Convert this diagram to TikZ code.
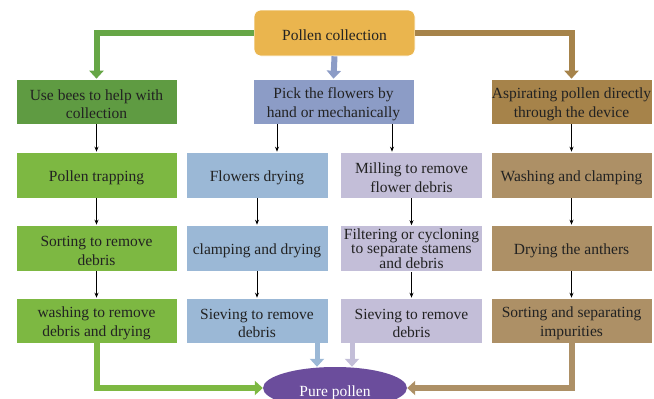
\documentclass[tikz,border=0pt]{standalone}
\usepackage{fontspec}
\setmainfont{Liberation Serif}
\usetikzlibrary{arrows.meta,shapes.geometric}
\definecolor{cPC}{HTML}{EAB54E}
\definecolor{cBees}{HTML}{5F9B42}
\definecolor{cPick}{HTML}{8C9CC6}
\definecolor{cAsp}{HTML}{A6834A}
\definecolor{cGreen}{HTML}{7DB842}
\definecolor{cBlue}{HTML}{9BB8D6}
\definecolor{cLav}{HTML}{C3BED8}
\definecolor{cTan}{HTML}{AD9066}
\definecolor{cPur}{HTML}{6B4D9C}
\definecolor{cTxt}{HTML}{222222}
\definecolor{cGarr}{HTML}{66A646}
\newcommand\mystrut{\rule{0pt}{16pt}}
\begin{document}
\begin{tikzpicture}[x=1pt,y=-1pt,
  box/.style={draw=white,line width=0.6pt,align=center,inner sep=0pt,text=cTxt,
    font=\fontsize{15.5}{18.5}\selectfont},
  wide/.style={box,minimum width=161pt},
  thinbox/.style={box,minimum width=142pt},
  hA/.style={minimum height=45pt},
  hB/.style={minimum height=46pt},
  fat/.style={line width=6pt,-{Triangle[width=14pt,length=8pt]}},
  slim/.style={line width=0.8pt,-{Stealth[length=5pt,width=4pt]}}]
\useasboundingbox (0,0) rectangle (654,399);
% top
\node[box,fill=cPC,minimum width=161pt,minimum height=46pt,rounded corners=7pt] (pc) at (334.5,33) {\mystrut Pollen collection};
% row 1
\node[wide,hA,fill=cBees] (bees) at (96.5,101.5) {\mystrut Use bees to help with\\collection};
\node[wide,hA,fill=cPick] (pick) at (333.5,101.5) {\mystrut Pick the flowers by\\hand or mechanically};
\node[wide,hA,fill=cAsp] (asp) at (571.5,101.5) {\mystrut Aspirating pollen directly\\through the device};
% row 2
\node[wide,hB,fill=cGreen] (trap) at (96.5,175) {\mystrut Pollen trapping};
\node[thinbox,hB,fill=cBlue] (fdry) at (257,175) {\mystrut Flowers drying};
\node[thinbox,hB,fill=cLav] (mill) at (411.5,175) {\mystrut Milling to remove\\flower debris};
\node[wide,hB,fill=cTan] (wash) at (571.5,175) {\mystrut Washing and clamping};
% row 3
\node[wide,hB,fill=cGreen] (sort) at (96.5,248) {\mystrut Sorting to remove\\debris};
\node[thinbox,hB,fill=cBlue] (clamp) at (257,248) {\mystrut clamping and drying};
\node[thinbox,hB,fill=cLav,font=\fontsize{15.5}{14.8}\selectfont] (filt) at (411.5,248.5) {Filtering or cycloning\\to separate stamens\\and debris};
\node[wide,hB,fill=cTan] (anth) at (571.5,248) {\mystrut Drying the anthers};
% row 4
\node[wide,hA,fill=cGreen] (wrem) at (96.5,320.5) {\mystrut washing to remove\\debris and drying};
\node[thinbox,hA,fill=cBlue] (sv1) at (257,320.5) {\mystrut Sieving to remove\\debris};
\node[thinbox,hA,fill=cLav] (sv2) at (411.5,320.5) {\mystrut Sieving to remove\\debris};
\node[wide,hA,fill=cTan] (imp) at (571.5,320.5) {\mystrut Sorting and separating\\impurities};
% result
\node[ellipse,fill=cPur,minimum width=144pt,minimum height=42pt,inner sep=0pt,text=white,
  font=\fontsize{15.5}{18}\selectfont] (pp) at (335,388) {\rule{0pt}{20pt}Pure pollen};
% thick connectors from top
\draw[fat,draw=cGarr] (pc.west) -| (bees.north);
\draw[fat,draw=cPick] (pc.south) -- (pick.north);
\draw[fat,draw=cAsp] (pc.east) -| (asp.north);
% thin connectors
\draw[slim] (bees.south) -- (trap.north);
\draw[slim] (trap.south) -- (sort.north);
\draw[slim] (sort.south) -- (wrem.north);
\draw[slim] ([xshift=-56.5pt]pick.south) -- ([xshift=-56.5pt]pick.south |- fdry.north);
\draw[slim] ([xshift=58.5pt]pick.south) -- ([xshift=58.5pt]pick.south |- mill.north);
\draw[slim] (fdry.south) -- (clamp.north);
\draw[slim] (clamp.south) -- (sv1.north);
\draw[slim] (mill.south) -- (filt.north);
\draw[slim] (filt.south) -- (sv2.north);
\draw[slim] (asp.south) -- (wash.north);
\draw[slim] (wash.south) -- (anth.north);
\draw[slim] (anth.south) -- (imp.north);
% thick connectors to result
\draw[fat,draw=cGreen] (wrem.south) |- (pp.west);
\draw[fat,draw=cTan] (imp.south) |- (pp.east);
\draw[fat,line width=5pt,draw=cBlue] ([xshift=60pt]sv1.south) -- ([xshift=60pt]sv1.south |- pp.north);
\draw[fat,line width=5pt,draw=cLav] ([xshift=-59.5pt]sv2.south) -- ([xshift=-59.5pt]sv2.south |- pp.north);
\end{tikzpicture}
\end{document}
